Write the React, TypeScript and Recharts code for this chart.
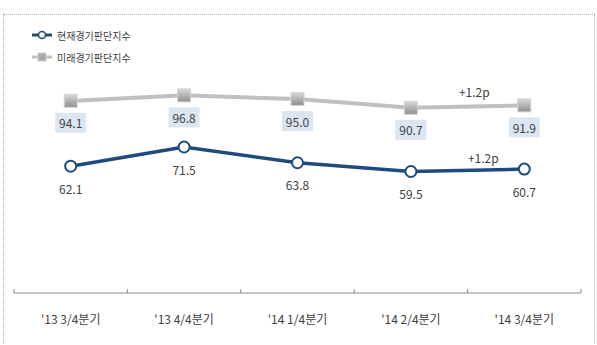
import { LineChart, Line, XAxis, YAxis, LabelList, Legend } from 'recharts';

// 경기판단지수 추이
const quarters = ["'13 3/4분기", "'13 4/4분기", "'14 1/4분기", "'14 2/4분기", "'14 3/4분기"];
const currentIndex = [62.1, 71.5, 63.8, 59.5, 60.7];
const futureIndex = [94.1, 96.8, 95.0, 90.7, 91.9];
const currentNotes = ['', '', '', '', '+1.2p'];
const futureNotes = ['', '', '', '', '+1.2p'];
const bandEdges = [0, 1, 2, 3, 4, 5];
const bandCenters = [0.5, 1.5, 2.5, 3.5, 4.5];
const legendOrder = ['current', 'future'];

const data = quarters.map((q, i) => ({
  pos: bandCenters[i],
  quarter: q,
  current: currentIndex[i],
  future: futureIndex[i],
  currentNote: currentNotes[i],
  futureNote: futureNotes[i],
}));

const FONT = '"Noto Sans CJK KR", "Noto Sans", sans-serif';
const NAVY = '#1f4a7c';
const GREY = '#c0c0c0';
const TEXT = '#404040';

const SquareDot = (p: any) => {
  const { cx, cy } = p;
  if (cx == null || cy == null) return null;
  return (
    <rect
      key={`sq-${p.index}`}
      x={cx - 6.5} y={cy - 6.5} width={13} height={13}
      fill="url(#sqGrad)" stroke="#d4d4d4" strokeWidth={1}
    />
  );
};

const CircleDot = (p: any) => {
  const { cx, cy } = p;
  if (cx == null || cy == null) return null;
  return <circle key={`c-${p.index}`} cx={cx} cy={cy} r={5.5} fill="#fff" stroke={NAVY} strokeWidth={2} />;
};

const boxLabel = (p: any) => {
  const { x, y, value } = p;
  return (
    <g>
      <rect x={x - 15.5} y={y + 12} width={31} height={20} fill="#dce6f2" />
      <text x={x} y={y + 22} textAnchor="middle" dominantBaseline="central"
        fontSize={12} fill={TEXT} fontFamily={FONT}>
        {Number(value).toFixed(1)}
      </text>
    </g>
  );
};

const plainLabel = (p: any) => {
  const { x, y, value } = p;
  return (
    <text x={x} y={y + 22} textAnchor="middle" dominantBaseline="central"
      fontSize={12} fill={TEXT} fontFamily={FONT}>
      {Number(value).toFixed(1)}
    </text>
  );
};

const noteLabel = (dx: number, dy: number) => (p: any) => {
  const { x, y, value } = p;
  if (!value) return null;
  return (
    <text x={x + dx} y={y + dy} textAnchor="middle" dominantBaseline="central"
      fontSize={12} fill={TEXT} fontFamily={FONT}>
      {value}
    </text>
  );
};

const LegendContent = (props: any) => {
  const payload = [...(props.payload || [])].sort(
    (a: any, b: any) => legendOrder.indexOf(a.dataKey) - legendOrder.indexOf(b.dataKey),
  );
  return (
    <div style={{ fontFamily: FONT, fontSize: 10, color: TEXT }}>
      {payload.map((e: any, i: number) => (
        <div key={i} style={{ display: 'flex', alignItems: 'center', height: 22 }}>
          <svg width={24} height={12} style={{ marginRight: 2 }}>
            <line x1={1} y1={6} x2={21} y2={6} stroke={e.color} strokeWidth={3} />
            {e.dataKey === 'current'
              ? <circle cx={11} cy={6} r={3.5} fill="#fff" stroke={NAVY} strokeWidth={1.5} />
              : <rect x={7} y={2} width={8} height={8} fill="#a8a8a8" stroke="#d0d0d0" />}
          </svg>
          <span>{e.value}</span>
        </div>
      ))}
    </div>
  );
};

export default function App() {
  return (
    <div style={{ position: 'absolute', left: 0, top: 0, width: 597, height: 345, background: '#fff', overflow: 'hidden' }}>
      <div style={{ position: 'absolute', left: 3, top: 14, width: 590, height: 400, border: '1px dotted #b0b0b0' }} />
      <div style={{ position: 'absolute', left: 0, top: 0 }}>
        <LineChart width={597} height={345} data={data} margin={{ top: 48, right: 16, left: 14, bottom: 21 }}>
          <defs>
            <linearGradient id="sqGrad" x1="0" y1="0" x2="0" y2="1">
              <stop offset="0%" stopColor="#d8d8d8" />
              <stop offset="100%" stopColor="#8f8f8f" />
            </linearGradient>
          </defs>
          <XAxis
            xAxisId="edges" type="number" dataKey="pos" domain={[0, 5]} ticks={bandEdges}
            height={1} tickSize={-4} tickFormatter={() => ''}
            axisLine={{ stroke: '#8a8a8a' }} tickLine={{ stroke: '#8a8a8a' }}
          />
          <XAxis
            xAxisId="labels" type="number" dataKey="pos" domain={[0, 5]} ticks={bandCenters}
            height={30} tickSize={0} tickMargin={21} axisLine={false} tickLine={false}
            tickFormatter={(v: number) => quarters[Math.floor(v)]}
            tick={{ fontSize: 12, fill: TEXT, fontFamily: FONT }}
          />
          <YAxis hide domain={[0, 120]} />
          <Legend
            layout="vertical" align="center" verticalAlign="middle"
            content={LegendContent}
            wrapperStyle={{ top: 24, left: 31, width: 'auto', height: 'auto' }}
          />
          <Line
            xAxisId="edges" dataKey="current" name="현재경기판단지수"
            stroke={NAVY} strokeWidth={3.5} dot={CircleDot} activeDot={false}
            isAnimationActive={false}
          >
            <LabelList dataKey="current" content={plainLabel} />
            <LabelList dataKey="currentNote" content={noteLabel(-41, -12)} />
          </Line>
          <Line
            xAxisId="edges" dataKey="future" name="미래경기판단지수"
            stroke={GREY} strokeWidth={4} dot={SquareDot} activeDot={false}
            isAnimationActive={false}
          >
            <LabelList dataKey="future" content={boxLabel} />
            <LabelList dataKey="futureNote" content={noteLabel(-50, -14)} />
          </Line>
        </LineChart>
      </div>
    </div>
  );
}
